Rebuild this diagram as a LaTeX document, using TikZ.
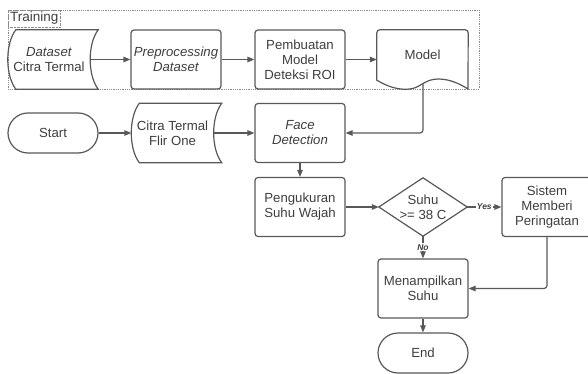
\documentclass[tikz,border=0pt]{standalone}
\usepackage{fontspec}
\setmainfont{Liberation Sans}
\usetikzlibrary{arrows.meta,calc}
\definecolor{linegray}{HTML}{585858}
\definecolor{textgray}{HTML}{3E3E3E}
\definecolor{framegray}{HTML}{8C8C8C}

% stored data outline round a plain node
\newcommand{\storeshape}[1]{%
  \draw[line] ($(#1.north west)+(8,0)$) -- ($(#1.north east)+(8,0)$)
    .. controls ($(#1.north east)+(-2.7,14)$) and ($(#1.south east)+(-2.7,-14)$) .. ($(#1.south east)+(8,0)$)
    -- ($(#1.south west)+(8,0)$)
    .. controls ($(#1.south west)+(-2.7,-14)$) and ($(#1.north west)+(-2.7,14)$) .. cycle;}

\begin{document}
\begin{tikzpicture}[x=1pt,y=-1pt,
    every node/.style={text=textgray, font=\fontsize{13.2}{15}\selectfont, align=center},
    line/.style={draw=linegray, line width=1.2pt},
    arr/.style={line, -{Triangle[length=7pt,width=5.5pt]}},
    proc/.style={line, rounded corners=3pt, minimum width=90pt, minimum height=59pt, inner sep=0.5pt},
    term/.style={line, rounded corners=20pt, minimum width=90pt, minimum height=40pt},
    store/.style={minimum width=82pt, minimum height=59pt, inner sep=0.5pt},
    lbl/.style={fill=white, inner sep=1pt, font=\fontsize{8.5}{9}\selectfont\bfseries\itshape}]
    \useasboundingbox (0,0) rectangle (588,374);

    % training group
    \draw[framegray, densely dotted, line width=0.8pt] (8,10) rectangle (479,89);
    \node[draw=framegray, densely dotted, anchor=north west, inner sep=2pt, font=\fontsize{13.5}{15}\selectfont] (train) at (8,10) {Training};

    \node[store] (dataset) at (49,59.5) {\textit{Dataset}\\Citra Termal};
    \storeshape{dataset}
    \node[proc] (prepro) at (176,59.5) {\textit{Preprocessing}\\\textit{Dataset}};
    \node[proc] (roi) at (300,59.5) {Pembuatan\\Model\\Deteksi ROI};
    \node[minimum width=91pt, minimum height=50pt] (model) at (422.5,55) {Model};
    \draw[line] (model.south west) [rounded corners=3pt] -- (model.north west) -- (model.north east) [sharp corners] -- (468,89)
        .. controls (460,84) and (450,79) .. (438,79)
        .. controls (425,79) and (420,88) .. (410,89)
        .. controls (400,90) and (390,88) .. (model.south west) -- cycle;
    \coordinate (modelout) at (423,83.6);

    % deteksi
    \node[term] (start) at (53,133) {Start};
    \node[store] (flir) at (172.5,133) {Citra Termal\\Flir One};
    \storeshape{flir}
    \node[proc] (face) at (300,133) {\textit{Face}\\\textit{Detection}};
    \node[proc] (ukur) at (300,207) {Pengukuran\\Suhu Wajah};
    \node[minimum width=88pt, minimum height=58pt, inner sep=0pt] (suhu) at (423,207) {Suhu\\>= 38 C};
    \draw[line] (suhu.north) -- (suhu.east) -- (suhu.south) -- (suhu.west) -- cycle;
    \node[proc] (sistem) at (547,207) {Sistem\\Memberi\\Peringatan};
    \node[proc] (tampil) at (423,288.5) {Menampilkan\\Suhu};
    \node[term] (selesai) at (423,353) {End};

    \draw[arr] (dataset) -- (prepro);
    \draw[arr] (prepro) -- (roi);
    \draw[arr] (roi.east) -- (roi.east -| model.west);
    \draw[arr] (start) -- (flir);
    \draw[arr] (flir) -- (face);
    \draw[arr, rounded corners=3pt] (modelout) |- (face.east);
    \draw[arr] (face) -- (ukur);
    \draw[arr] (ukur) -- (suhu.west);
    \draw[arr] (suhu.east) -- node[lbl] {Yes} (sistem);
    \draw[arr] (suhu.south) -- node[lbl] {No} (tampil);
    \draw[arr, rounded corners=3pt] (sistem.south) |- (tampil.east);
    \draw[arr] (tampil) -- (selesai);
\end{tikzpicture}
\end{document}
